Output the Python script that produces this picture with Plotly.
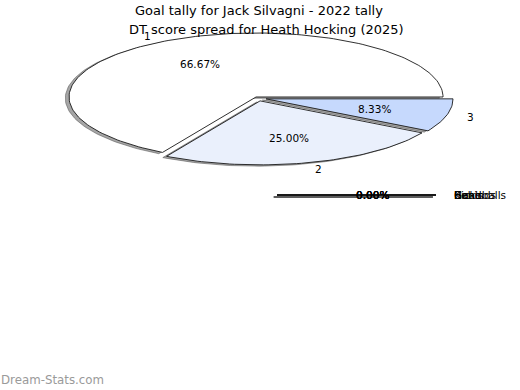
import numpy as np
import plotly.graph_objects as go

# ---------------- data ----------------
dt_title = "DT score spread for Heath Hocking (2025)"
dt_labels = ["1", "2", "3"]
dt_counts = [8, 3, 1]

goal_title = "Goal tally for Jack Silvagni - 2022 tally"
goal_labels = ["Goals", "Behinds", "Kicks", "Handballs"]
goal_values = [0, 0, 0, 0]

watermark = "Dream-Stats.com"

# ---------------- style ----------------
W, H = 520, 390
FONT = "DejaVu Sans"
dt_colors = ["#ffffff", "#eaf0fc", "#c6d9fd"]
dt_explode = [0.02, 0.045, 0.045]
goal_colors = ["#ffffff", "#eaf0fc", "#c6d9fd", "#9dbcf9"]
goal_explode = [0.0, 0.0, 0.0, 0.0]
EDGE = "#1a1a1a"
SHADOW = "rgba(77,77,77,0.5)"

# pie geometry (pixel space of the plot area)
DT_CX, DT_CY, DT_A, DT_B = 257.9, 98.1, 187.0, 64.0
GL_CX, GL_CY, GL_A, GL_B = 277.0, 195.0, 159.0, 100.0


def fractions(vals):
    tot = float(sum(vals))
    return [v / tot if tot else 0.0 for v in vals]


def layout_wedges(vals, cx, cy, a, b, explode):
    out = []
    t = 0.0
    for f, e in zip(fractions(vals), explode):
        t1, t2 = t, t + f * 360.0
        mid = np.deg2rad((t1 + t2) / 2.0)
        ox = cx + e * a * np.cos(mid)
        oy = cy - e * b * np.sin(mid)
        out.append((f, t1, t2, mid, ox, oy))
        t = t2
    return out


def wedge_path(t1, t2, ox, oy, a, b):
    n = max(2, int(abs(t2 - t1) / 1.5) + 2)
    th = np.deg2rad(np.linspace(t1, t2, n))
    xs = np.concatenate([[ox], ox + a * np.cos(th), [ox]])
    ys = np.concatenate([[oy], oy - b * np.sin(th), [oy]])
    return xs, ys


fig = go.Figure()
annotations = []


def add_pie(vals, labels, colors, cx, cy, a, b, explode, fontsize):
    ws = layout_wedges(vals, cx, cy, a, b, explode)
    # shadows first (below all wedges)
    for (f, t1, t2, mid, ox, oy) in ws:
        xs, ys = wedge_path(t1, t2, ox - 0.02 * a, oy + 0.02 * b, a, b)
        fig.add_trace(go.Scatter(x=xs, y=ys, mode="lines", fill="toself",
                                 fillcolor=SHADOW, line=dict(color=SHADOW, width=1),
                                 hoverinfo="skip", showlegend=False))
    for i, (f, t1, t2, mid, ox, oy) in enumerate(ws):
        xs, ys = wedge_path(t1, t2, ox, oy, a, b)
        fig.add_trace(go.Scatter(x=xs, y=ys, mode="lines", fill="toself",
                                 fillcolor=colors[i % len(colors)],
                                 line=dict(color=EDGE, width=0.9),
                                 hoverinfo="skip", showlegend=False))
    for i, (f, t1, t2, mid, ox, oy) in enumerate(ws):
        px = ox + 0.6 * a * np.cos(mid)
        py = oy - 0.6 * b * np.sin(mid)
        annotations.append(dict(x=px, y=py, text=f"{f * 100:.2f}%", showarrow=False,
                                xanchor="center", yanchor="middle",
                                font=dict(family=FONT, size=fontsize, color="#000")))
        lx = ox + 1.1 * a * np.cos(mid)
        ly = oy - 1.1 * b * np.sin(mid)
        annotations.append(dict(x=lx, y=ly, text=labels[i], showarrow=False,
                                xanchor="right" if np.cos(mid) < 0 else "left",
                                yanchor="middle",
                                font=dict(family=FONT, size=fontsize, color="#000")))


add_pie(dt_counts, dt_labels, dt_colors, DT_CX, DT_CY, DT_A, DT_B, dt_explode, 10.5)
add_pie(goal_values, goal_labels, goal_colors, GL_CX, GL_CY, GL_A, GL_B, goal_explode, 10.5)

annotations.append(dict(x=259, y=10, text=goal_title, showarrow=False,
                        xanchor="center", yanchor="middle",
                        font=dict(family=FONT, size=13, color="#000")))
annotations.append(dict(x=266, y=29.5, text=dt_title, showarrow=False,
                        xanchor="center", yanchor="middle",
                        font=dict(family=FONT, size=13, color="#000")))
annotations.append(dict(x=0, y=380, xshift=-1, text=watermark, showarrow=False,
                        xanchor="left", yanchor="middle",
                        font=dict(family=FONT, size=11.8, color="#9a9a9a")))

for ann in annotations:
    ann.update(xref="x", yref="y")

fig.update_layout(
    width=W, height=H,
    margin=dict(l=0, r=0, t=0, b=0),
    paper_bgcolor="white", plot_bgcolor="white",
    xaxis=dict(range=[0, W], visible=False, fixedrange=True),
    yaxis=dict(range=[H, 0], visible=False, fixedrange=True),
    annotations=annotations,
    showlegend=False,
)

fig.write_html("out.html", config={"displayModeBar": False},
               post_script="document.body.style.margin='0';document.body.style.padding='0';")
